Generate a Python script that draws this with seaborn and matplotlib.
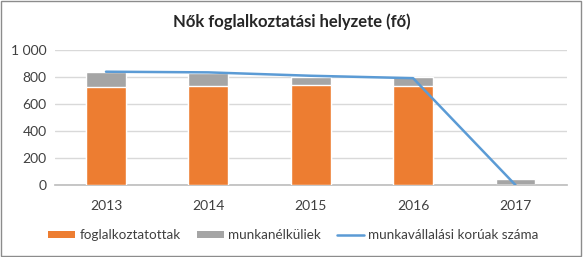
import numpy as np
import pandas as pd
import matplotlib
matplotlib.use("Agg")
import matplotlib.pyplot as plt
from matplotlib.patches import Patch, Rectangle
from matplotlib.lines import Line2D
import seaborn as sns

years = ["2013", "2014", "2015", "2016", "2017"]
employed = [728, 733, 741, 733, 0]
unemployed = [110, 100, 62, 65, 44]
working_age = [840, 835, 810, 792, 0]

title = "Nők foglalkoztatási helyzete (fő)"
labels = ["foglalkoztatottak", "munkanélküliek", "munkavállalási korúak száma"]
c_emp, c_unemp, c_line = "#ED7D31", "#A5A5A5", "#5B9BD5"

sns.set_theme(style="white")
plt.rcParams["font.family"] = ["Lato", "DejaVu Sans"]

df = pd.DataFrame({"year": years, "emp": employed, "unemp": unemployed, "line": working_age})
df["total"] = df["emp"] + df["unemp"]
df["pos"] = np.arange(len(df))

fig = plt.figure(figsize=(5.83, 2.57), dpi=100)
ax = fig.add_axes([0.094, 0.28, 0.878, 0.525])

sns.barplot(data=df, x="year", y="total", color=c_unemp, width=0.39, saturation=1, ax=ax, zorder=2)
sns.barplot(data=df, x="year", y="emp", color=c_emp, width=0.39, saturation=1, ax=ax, zorder=3)
sns.lineplot(data=df, x="pos", y="line", color=c_line, linewidth=1.8, ax=ax, zorder=4)

ax.set_xlim(-0.5, len(years) - 0.5)
ax.set_ylim(0, 1000)
ax.set_yticks([0, 200, 400, 600, 800, 1000])
ax.set_yticklabels(["0", "200", "400", "600", "800", "1 000"])
ax.set_xticks(range(len(years)))
ax.set_xticklabels(years)
ax.set_xlabel("")
ax.set_ylabel("")
ax.yaxis.grid(True, color="#D9D9D9", linewidth=1)
ax.set_axisbelow(True)
for s in ["top", "right", "left"]:
    ax.spines[s].set_visible(False)
ax.spines["bottom"].set_color("#BFBFBF")
ax.tick_params(axis="both", labelsize=10, colors="#404040", length=0, pad=6)
ax.tick_params(axis="x", pad=11)
ax.set_xticks(np.arange(-0.5, len(years), 1), minor=True)
ax.tick_params(axis="x", which="minor", length=4, color="#BFBFBF", direction="out")

fig.text(0.5, 0.915, title, ha="center", va="center", fontsize=12, fontweight="bold", color="#262626")

handles = [Patch(facecolor=c_emp, edgecolor="none"),
           Patch(facecolor=c_unemp, edgecolor="none"),
           Line2D([0], [0], color=c_line, linewidth=1.8)]
fig.legend(handles, labels, loc="center", bbox_to_anchor=(0.503, 0.085), ncol=3, frameon=False,
           fontsize=9.7, handlelength=2.0, handleheight=0.45, columnspacing=1.2, handletextpad=0.3,
           labelcolor="#404040")

fig.add_artist(Rectangle((0.002, 0.004), 0.995, 0.992, transform=fig.transFigure, fill=False,
                         edgecolor="#8C8C8C", linewidth=1))

fig.savefig("out.png", dpi=100)
